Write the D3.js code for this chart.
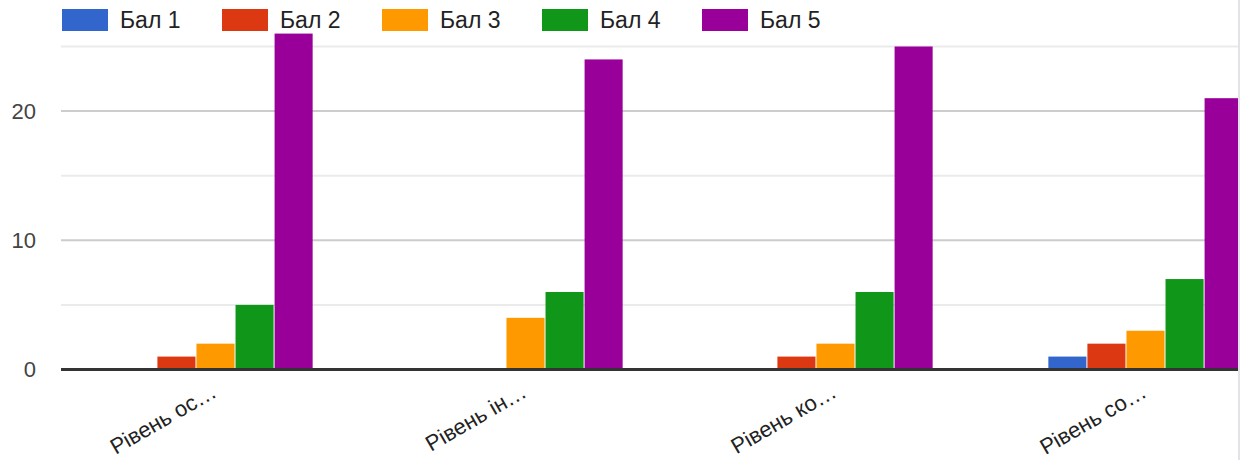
<!DOCTYPE html>
<html>
<head>
<meta charset="utf-8">
<script src="https://cdn.jsdelivr.net/npm/d3@7"></script>
<style>
  body { margin: 0; background: #fff; }
  svg { display: block; font-family: "Liberation Sans", Arial, sans-serif; }
</style>
</head>
<body>
<script>
'use strict';

var categories = ["Рівень ос…", "Рівень ін…", "Рівень ко…", "Рівень со…"];
var seriesNames = ["Бал 1", "Бал 2", "Бал 3", "Бал 4", "Бал 5"];
var seriesColors = ["#3366cc", "#dc3912", "#ff9900", "#109618", "#990099"];
// values[series][category]
var bal1 = [0, 0, 0, 1];
var bal2 = [1, 0, 1, 2];
var bal3 = [2, 4, 2, 3];
var bal4 = [5, 6, 6, 7];
var bal5 = [26, 24, 25, 21];
var values = [bal1, bal2, bal3, bal4, bal5];
var yTicks = [0, 5, 10, 15, 20, 25];
var yLabels = [0, 10, 20];

var _width = 1240;
var _height = 460;
var _left = 61;
var _clip = 1238;

var svg = d3.select(document.body)
    .append("svg")
    .attr("width", _width)
    .attr("height", _height);

var defs = svg.append("defs");
defs.append("clipPath").attr("id", "plotClip")
    .append("rect")
    .attr("x", 0).attr("y", 0)
    .attr("width", _clip).attr("height", _height);

var _xScale = d3.scaleBand()
    .domain(categories)
    .range([_left, _left + 4 * 310])
    .paddingInner(0.37)
    .paddingOuter(0.185);

var _x1 = d3.scaleBand()
    .domain(d3.range(seriesNames.length))
    .range([0, _xScale.bandwidth()]);

var _yScale = d3.scaleLinear().domain([0, 25]).range([369.5, 46.5]);

var plot = svg.append("g").attr("clip-path", "url(#plotClip)");

// gridlines
plot.append("g").attr("class", "grid")
    .selectAll("line")
    .data(yTicks.filter(function(d) { return d > 0; }))
    .enter()
    .append("line")
    .attr("x1", _left)
    .attr("x2", _clip)
    .attr("y1", function(d) { return _yScale(d); })
    .attr("y2", function(d) { return _yScale(d); })
    .attr("stroke", function(d) { return d % 10 == 0 ? "#cccccc" : "#ebebeb"; })
    .attr("stroke-width", 2);

// bars
var groups = plot.append("g").attr("class", "bars")
    .selectAll("g")
    .data(categories)
    .enter()
    .append("g")
    .attr("transform", function(c) { return "translate(" + _xScale(c) + ",0)"; });

groups.selectAll("rect")
    .data(function(c, ci) {
      return values.map(function(s, si) { return {si: si, v: s[ci]}; });
    })
    .enter()
    .append("rect")
    .attr("x", function(d) { return _x1(d.si); })
    .attr("y", function(d) { return _yScale(d.v); })
    .attr("width", _x1.bandwidth() - 1)
    .attr("height", function(d) { return _yScale(0) - _yScale(d.v); })
    .attr("fill", function(d) { return seriesColors[d.si]; });

// zero line
plot.append("line")
    .attr("x1", _left)
    .attr("x2", _clip)
    .attr("y1", _yScale(0))
    .attr("y2", _yScale(0))
    .attr("stroke", "#333333")
    .attr("stroke-width", 3);

// y labels
svg.append("g").attr("class", "y labels")
    .selectAll("text")
    .data(yLabels)
    .enter()
    .append("text")
    .attr("x", 36)
    .attr("y", function(d) { return _yScale(d); })
    .attr("dy", "0.36em")
    .attr("text-anchor", "end")
    .attr("font-size", 22)
    .attr("fill", "#444444")
    .text(function(d) { return d; });

// x labels
svg.append("g").attr("class", "x labels")
    .selectAll("text")
    .data(categories)
    .enter()
    .append("text")
    .attr("transform", function(c) {
      return "translate(" + (_xScale(c) + _xScale.bandwidth() / 2 + 2) + ",396) rotate(-30)";
    })
    .attr("text-anchor", "end")
    .attr("font-size", 22)
    .attr("fill", "#222222")
    .text(function(c) { return c; });

// legend
var legend = svg.append("g").attr("class", "legend")
    .selectAll("g")
    .data(seriesNames)
    .enter()
    .append("g")
    .attr("transform", function(d, i) { return "translate(" + (62 + i * 160) + ",9)"; });

legend.append("rect")
    .attr("width", 46)
    .attr("height", 22)
    .attr("fill", function(d, i) { return seriesColors[i]; });

legend.append("text")
    .attr("x", 58)
    .attr("y", 11)
    .attr("dy", "0.36em")
    .attr("font-size", 23)
    .attr("fill", "#222222")
    .text(function(d) { return d; });

// right border strip
svg.append("rect")
    .attr("x", _clip)
    .attr("y", 0)
    .attr("width", _width - _clip)
    .attr("height", _height)
    .attr("fill", "#e2e2e8");
</script>
</body>
</html>
